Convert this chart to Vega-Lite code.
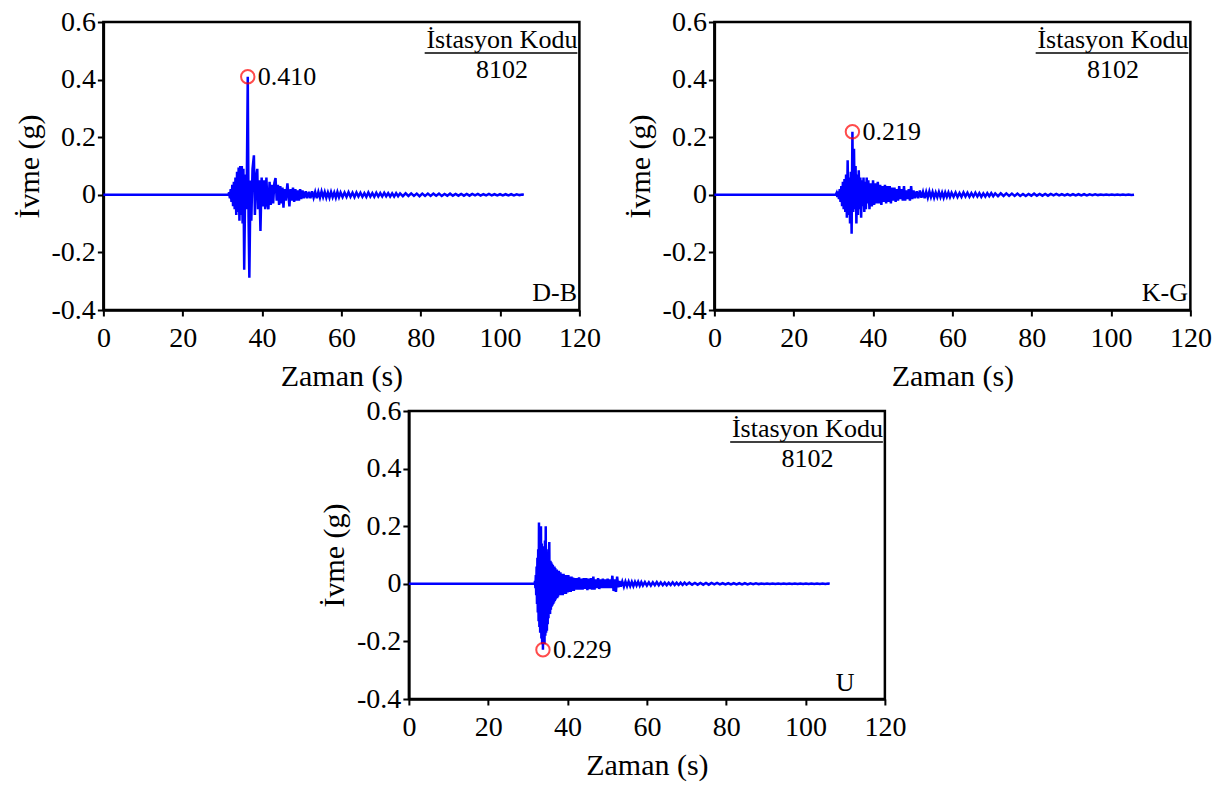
{
"$schema":"https://vega.github.io/schema/vega-lite/v6.json",
"padding":{"left":12,"top":6,"right":5,"bottom":2},
"config":{
 "font":"Liberation Serif",
 "view":{"stroke":"black","strokeWidth":2.5},
 "axis":{"grid":false,"domainColor":"black","domainWidth":2.5,"tickColor":"black","tickWidth":2,"tickSize":6,"labelFont":"Liberation Serif","labelFontSize":28,"labelColor":"black","labelFlush":false,"labelOverlap":false,"titleFont":"Liberation Serif","titleFontSize":30,"titleFontWeight":"normal","titleColor":"black"},
 "axisX":{"labelPadding":8,"titlePadding":9},
 "axisY":{"labelPadding":2,"titlePadding":7},
 "text":{"font":"Liberation Serif","fontSize":26,"color":"black"}
},
"datasets":{
 "db":[{"t":0,"a":0},{"t":31.5,"a":0},{"t":31.7,"a":0.008},{"t":31.9,"a":-0.012},{"t":32.1,"a":0.02},{"t":32.3,"a":-0.025},{"t":32.5,"a":0.035},{"t":32.7,"a":-0.04},{"t":32.9,"a":0.045},{"t":33.1,"a":-0.05},{"t":33.3,"a":0.06},{"t":33.5,"a":-0.07},{"t":33.7,"a":0.08},{"t":33.9,"a":-0.06},{"t":34.1,"a":0.095},{"t":34.3,"a":-0.09},{"t":34.5,"a":0.1},{"t":34.7,"a":-0.07},{"t":34.9,"a":0.1},{"t":35.1,"a":-0.1},{"t":35.3,"a":0.09},{"t":35.5,"a":-0.26},{"t":35.8,"a":0.07},{"t":36.1,"a":-0.05},{"t":36.4,"a":0.41},{"t":36.6,"a":-0.08},{"t":36.8,"a":-0.288},{"t":37.1,"a":0.05},{"t":37.3,"a":-0.09},{"t":37.6,"a":0.09},{"t":37.95,"a":0.137},{"t":38.2,"a":-0.07},{"t":38.5,"a":0.06},{"t":38.8,"a":0.09},{"t":39.0,"a":-0.05},{"t":39.3,"a":0.05},{"t":39.6,"a":-0.126},{"t":39.9,"a":0.06},{"t":40.2,"a":-0.04},{"t":40.5,"a":0.05},{"t":40.8,"a":-0.05},{"t":41.1,"a":0.06},{"t":41.35,"a":-0.03},{"t":41.6,"a":-0.05},{"t":41.9,"a":0.045},{"t":42.2,"a":-0.035},{"t":42.5,"a":0.035},{"t":42.8,"a":-0.03},{"t":43.1,"a":0.04},{"t":43.4,"a":0.058},{"t":43.7,"a":-0.02},{"t":44.0,"a":0.035},{"t":44.3,"a":-0.035},{"t":44.6,"a":0.03},{"t":44.9,"a":-0.03},{"t":45.15,"a":0.025},{"t":45.4,"a":-0.045},{"t":45.7,"a":0.02},{"t":46.0,"a":-0.02},{"t":46.4,"a":0.04},{"t":46.9,"a":-0.04},{"t":47.2,"a":0.02},{"t":47.5,"a":-0.02},{"t":47.8,"a":0.025},{"t":48.1,"a":-0.025},{"t":48.4,"a":0.02},{"t":48.7,"a":-0.02},{"t":49.0,"a":0.015},{"t":49.3,"a":-0.02},{"t":49.6,"a":0.02},{"t":49.9,"a":-0.015},{"t":50.2,"a":0.015},{"t":50.6,"a":-0.012},{"t":51.0,"a":0.012},{"t":51.4,"a":-0.012},{"t":51.8,"a":0.01},{"t":52.2,"a":-0.012},{"t":52.6,"a":0.012},{"t":53.0,"a":-0.01},{"t":53.4,"a":0.01},{"t":53.8,"a":-0.012},{"t":54.2,"a":0.01},{"t":54.6,"a":-0.01},{"t":55.0,"a":0.012},{"t":55.4,"a":-0.008},{"t":55.8,"a":0.01},{"t":56.2,"a":-0.01},{"t":56.6,"a":0.008},{"t":57.0,"a":-0.01},{"t":57.4,"a":0.01},{"t":57.8,"a":-0.008},{"t":58.2,"a":0.008},{"t":58.6,"a":-0.01},{"t":59.0,"a":0.01},{"t":59.4,"a":-0.008},{"t":59.8,"a":0.008},{"t":60.3,"a":-0.008},{"t":60.8,"a":0.008},{"t":61.3,"a":-0.007},{"t":61.8,"a":0.009},{"t":62.3,"a":-0.007},{"t":62.8,"a":0.007},{"t":63.3,"a":-0.008},{"t":63.8,"a":0.008},{"t":64.3,"a":-0.006},{"t":64.8,"a":0.007},{"t":65.3,"a":-0.007},{"t":65.8,"a":0.006},{"t":66.3,"a":-0.007},{"t":66.8,"a":0.008},{"t":67.3,"a":-0.006},{"t":67.8,"a":0.006},{"t":68.3,"a":-0.007},{"t":68.8,"a":0.007},{"t":69.3,"a":-0.006},{"t":69.8,"a":0.006},{"t":70.3,"a":-0.006},{"t":70.8,"a":0.007},{"t":71.3,"a":-0.005},{"t":71.8,"a":0.006},{"t":72.3,"a":-0.006},{"t":72.8,"a":0.005},{"t":73.3,"a":-0.006},{"t":73.8,"a":0.006},{"t":74.3,"a":-0.005},{"t":74.8,"a":0.005},{"t":75.5,"a":-0.005},{"t":76.2,"a":0.005},{"t":76.9,"a":-0.004},{"t":77.6,"a":0.005},{"t":78.3,"a":-0.004},{"t":79.0,"a":0.004},{"t":79.7,"a":-0.005},{"t":80.4,"a":0.004},{"t":81.1,"a":-0.004},{"t":81.8,"a":0.004},{"t":82.5,"a":-0.004},{"t":83.2,"a":0.004},{"t":83.9,"a":-0.003},{"t":84.6,"a":0.004},{"t":85.3,"a":-0.004},{"t":86.0,"a":0.003},{"t":86.7,"a":-0.003},{"t":87.4,"a":0.004},{"t":88.1,"a":-0.003},{"t":88.8,"a":0.003},{"t":89.5,"a":-0.003},{"t":90.2,"a":0.003},{"t":90.9,"a":-0.003},{"t":91.6,"a":0.003},{"t":92.3,"a":-0.003},{"t":93.0,"a":0.003},{"t":93.7,"a":-0.002},{"t":94.4,"a":0.003},{"t":95.1,"a":-0.003},{"t":95.8,"a":0.002},{"t":96.5,"a":-0.002},{"t":97.2,"a":0.003},{"t":97.9,"a":-0.002},{"t":98.6,"a":0.002},{"t":99.3,"a":-0.002},{"t":100.0,"a":0.002},{"t":100.7,"a":-0.002},{"t":101.4,"a":0.002},{"t":102.1,"a":-0.002},{"t":102.8,"a":0.002},{"t":103.5,"a":-0.002},{"t":104.2,"a":0.002},{"t":104.9,"a":-0.001},{"t":105.6,"a":0.001},{"t":106.0,"a":0}],
 "kg":[{"t":0,"a":0},{"t":30.6,"a":0},{"t":30.8,"a":0.006},{"t":31.0,"a":-0.008},{"t":31.2,"a":0.012},{"t":31.4,"a":-0.015},{"t":31.6,"a":0.02},{"t":31.8,"a":-0.025},{"t":32.0,"a":0.03},{"t":32.2,"a":-0.04},{"t":32.4,"a":0.045},{"t":32.6,"a":-0.05},{"t":32.8,"a":0.055},{"t":33.0,"a":-0.06},{"t":33.2,"a":0.07},{"t":33.4,"a":-0.08},{"t":33.6,"a":0.12},{"t":33.8,"a":-0.07},{"t":34.0,"a":0.06},{"t":34.2,"a":-0.1},{"t":34.4,"a":0.08},{"t":34.6,"a":-0.135},{"t":34.8,"a":0.219},{"t":35.0,"a":-0.06},{"t":35.2,"a":0.16},{"t":35.4,"a":-0.05},{"t":35.6,"a":0.1},{"t":35.8,"a":-0.1},{"t":36.0,"a":0.07},{"t":36.2,"a":-0.07},{"t":36.4,"a":0.085},{"t":36.6,"a":-0.05},{"t":36.8,"a":0.06},{"t":37.0,"a":-0.08},{"t":37.2,"a":0.05},{"t":37.4,"a":-0.04},{"t":37.6,"a":0.06},{"t":37.8,"a":-0.06},{"t":38.0,"a":0.045},{"t":38.2,"a":-0.05},{"t":38.4,"a":0.06},{"t":38.6,"a":-0.03},{"t":38.8,"a":0.05},{"t":39.1,"a":-0.05},{"t":39.4,"a":0.04},{"t":39.7,"a":-0.04},{"t":40.0,"a":0.05},{"t":40.3,"a":-0.035},{"t":40.6,"a":0.04},{"t":40.9,"a":-0.03},{"t":41.2,"a":0.045},{"t":41.5,"a":-0.03},{"t":41.8,"a":0.035},{"t":42.1,"a":-0.035},{"t":42.4,"a":0.03},{"t":42.7,"a":-0.025},{"t":43.0,"a":0.035},{"t":43.3,"a":-0.03},{"t":43.6,"a":0.03},{"t":43.9,"a":-0.025},{"t":44.2,"a":0.03},{"t":44.5,"a":-0.03},{"t":44.8,"a":0.025},{"t":45.1,"a":-0.02},{"t":45.4,"a":0.025},{"t":45.7,"a":-0.025},{"t":46.0,"a":0.02},{"t":46.3,"a":-0.02},{"t":46.6,"a":0.03},{"t":46.9,"a":-0.015},{"t":47.2,"a":0.02},{"t":47.5,"a":-0.02},{"t":47.8,"a":0.03},{"t":48.1,"a":-0.02},{"t":48.4,"a":0.015},{"t":48.7,"a":-0.015},{"t":49.0,"a":0.02},{"t":49.3,"a":-0.02},{"t":49.6,"a":0.03},{"t":49.9,"a":-0.015},{"t":50.2,"a":0.015},{"t":50.6,"a":-0.012},{"t":51.0,"a":0.012},{"t":51.4,"a":-0.012},{"t":51.8,"a":0.015},{"t":52.2,"a":-0.01},{"t":52.6,"a":0.01},{"t":53.0,"a":-0.012},{"t":53.4,"a":0.01},{"t":53.8,"a":-0.01},{"t":54.2,"a":0.012},{"t":54.6,"a":-0.008},{"t":55.0,"a":0.01},{"t":55.4,"a":-0.01},{"t":55.8,"a":0.008},{"t":56.2,"a":-0.008},{"t":56.6,"a":0.01},{"t":57.0,"a":-0.008},{"t":57.4,"a":0.008},{"t":57.8,"a":-0.01},{"t":58.2,"a":0.008},{"t":58.6,"a":-0.007},{"t":59.0,"a":0.008},{"t":59.4,"a":-0.008},{"t":59.8,"a":0.007},{"t":60.3,"a":-0.007},{"t":60.8,"a":0.008},{"t":61.3,"a":-0.008},{"t":61.8,"a":0.006},{"t":62.3,"a":-0.007},{"t":62.8,"a":0.008},{"t":63.3,"a":-0.006},{"t":63.8,"a":0.007},{"t":64.3,"a":-0.007},{"t":64.8,"a":0.006},{"t":65.3,"a":-0.006},{"t":65.8,"a":0.007},{"t":66.3,"a":-0.006},{"t":66.8,"a":0.006},{"t":67.3,"a":-0.007},{"t":67.8,"a":0.005},{"t":68.3,"a":-0.006},{"t":68.8,"a":0.006},{"t":69.3,"a":-0.005},{"t":69.8,"a":0.006},{"t":70.3,"a":-0.005},{"t":70.8,"a":0.005},{"t":71.5,"a":-0.005},{"t":72.2,"a":0.005},{"t":72.9,"a":-0.004},{"t":73.6,"a":0.005},{"t":74.3,"a":-0.004},{"t":75.0,"a":0.004},{"t":75.7,"a":-0.004},{"t":76.4,"a":0.004},{"t":77.1,"a":-0.004},{"t":77.8,"a":0.003},{"t":78.5,"a":-0.004},{"t":79.2,"a":0.003},{"t":79.9,"a":-0.003},{"t":80.6,"a":0.004},{"t":81.3,"a":-0.003},{"t":82.0,"a":0.003},{"t":82.7,"a":-0.003},{"t":83.4,"a":0.003},{"t":84.1,"a":-0.003},{"t":84.8,"a":0.003},{"t":85.5,"a":-0.002},{"t":86.2,"a":0.003},{"t":86.9,"a":-0.002},{"t":87.6,"a":0.002},{"t":88.3,"a":-0.002},{"t":89.0,"a":0.002},{"t":89.7,"a":-0.002},{"t":90.4,"a":0.002},{"t":91.1,"a":-0.002},{"t":91.8,"a":0.002},{"t":92.5,"a":-0.002},{"t":93.2,"a":0.002},{"t":93.9,"a":-0.002},{"t":94.6,"a":0.002},{"t":95.3,"a":-0.001},{"t":96.0,"a":0.002},{"t":96.7,"a":-0.001},{"t":97.4,"a":0.001},{"t":98.1,"a":-0.001},{"t":98.8,"a":0.001},{"t":99.5,"a":-0.001},{"t":100.2,"a":0.001},{"t":100.9,"a":-0.001},{"t":101.6,"a":0.001},{"t":102.3,"a":-0.001},{"t":103.0,"a":0.001},{"t":103.7,"a":-0.001},{"t":104.4,"a":0.001},{"t":105.1,"a":-0.001},{"t":105.8,"a":0}],
 "u":[{"t":0,"a":0},{"t":31.7,"a":0},{"t":31.8,"a":0.01},{"t":31.9,"a":-0.015},{"t":32.0,"a":0.03},{"t":32.1,"a":-0.04},{"t":32.2,"a":0.06},{"t":32.3,"a":-0.07},{"t":32.4,"a":0.09},{"t":32.5,"a":-0.1},{"t":32.6,"a":0.12},{"t":32.7,"a":-0.13},{"t":32.8,"a":0.213},{"t":32.9,"a":-0.15},{"t":33.0,"a":0.15},{"t":33.1,"a":-0.17},{"t":33.2,"a":0.18},{"t":33.3,"a":0.2},{"t":33.4,"a":-0.19},{"t":33.5,"a":0.14},{"t":33.6,"a":-0.21},{"t":33.7,"a":0.13},{"t":33.8,"a":-0.229},{"t":33.9,"a":0.12},{"t":34.0,"a":-0.2},{"t":34.1,"a":0.13},{"t":34.2,"a":-0.21},{"t":34.3,"a":0.15},{"t":34.4,"a":-0.18},{"t":34.5,"a":0.2},{"t":34.6,"a":-0.17},{"t":34.7,"a":0.12},{"t":34.8,"a":-0.163},{"t":34.9,"a":0.1},{"t":35.0,"a":-0.14},{"t":35.1,"a":0.11},{"t":35.2,"a":-0.12},{"t":35.3,"a":0.09},{"t":35.4,"a":0.145},{"t":35.5,"a":-0.1},{"t":35.6,"a":-0.105},{"t":35.7,"a":0.08},{"t":35.8,"a":-0.09},{"t":35.9,"a":0.075},{"t":36.0,"a":-0.08},{"t":36.1,"a":0.07},{"t":36.2,"a":-0.075},{"t":36.3,"a":0.065},{"t":36.4,"a":-0.07},{"t":36.5,"a":0.06},{"t":36.6,"a":-0.065},{"t":36.7,"a":0.06},{"t":36.8,"a":-0.06},{"t":36.9,"a":0.055},{"t":37.0,"a":-0.055},{"t":37.1,"a":0.05},{"t":37.2,"a":-0.05},{"t":37.3,"a":0.05},{"t":37.4,"a":-0.05},{"t":37.5,"a":0.045},{"t":37.6,"a":-0.045},{"t":37.8,"a":0.045},{"t":38.0,"a":-0.04},{"t":38.2,"a":0.04},{"t":38.4,"a":-0.04},{"t":38.6,"a":0.035},{"t":38.8,"a":-0.04},{"t":39.0,"a":0.035},{"t":39.2,"a":-0.035},{"t":39.4,"a":0.03},{"t":39.6,"a":-0.035},{"t":39.8,"a":0.03},{"t":40.0,"a":-0.03},{"t":40.2,"a":0.03},{"t":40.4,"a":-0.028},{"t":40.6,"a":0.025},{"t":40.8,"a":-0.028},{"t":41.0,"a":0.025},{"t":41.2,"a":-0.025},{"t":41.4,"a":0.022},{"t":41.6,"a":-0.025},{"t":41.8,"a":0.02},{"t":42.0,"a":-0.02},{"t":42.3,"a":0.02},{"t":42.6,"a":-0.02},{"t":42.9,"a":0.022},{"t":43.2,"a":-0.02},{"t":43.5,"a":0.018},{"t":43.8,"a":-0.02},{"t":44.1,"a":0.02},{"t":44.4,"a":-0.018},{"t":44.7,"a":0.02},{"t":45.0,"a":-0.022},{"t":45.3,"a":0.018},{"t":45.6,"a":-0.018},{"t":45.9,"a":0.02},{"t":46.2,"a":-0.02},{"t":46.5,"a":0.025},{"t":46.8,"a":-0.02},{"t":47.1,"a":0.015},{"t":47.4,"a":-0.015},{"t":47.7,"a":0.02},{"t":48.0,"a":-0.018},{"t":48.3,"a":0.015},{"t":48.6,"a":-0.015},{"t":48.9,"a":0.018},{"t":49.2,"a":-0.015},{"t":49.5,"a":0.015},{"t":49.8,"a":-0.015},{"t":50.1,"a":0.018},{"t":50.4,"a":-0.015},{"t":50.7,"a":0.015},{"t":51.0,"a":-0.015},{"t":51.3,"a":0.028},{"t":51.6,"a":-0.025},{"t":51.9,"a":0.015},{"t":52.2,"a":-0.028},{"t":52.5,"a":0.025},{"t":52.8,"a":-0.012},{"t":53.1,"a":0.01},{"t":53.4,"a":-0.01},{"t":53.8,"a":0.008},{"t":54.2,"a":-0.01},{"t":54.6,"a":0.008},{"t":55.0,"a":-0.008},{"t":55.4,"a":0.008},{"t":55.8,"a":-0.008},{"t":56.2,"a":0.007},{"t":56.6,"a":-0.008},{"t":57.0,"a":0.007},{"t":57.4,"a":-0.006},{"t":57.8,"a":0.007},{"t":58.2,"a":-0.007},{"t":58.6,"a":0.006},{"t":59.0,"a":-0.006},{"t":59.5,"a":0.006},{"t":60.0,"a":-0.006},{"t":60.5,"a":0.005},{"t":61.0,"a":-0.006},{"t":61.5,"a":0.005},{"t":62.0,"a":-0.005},{"t":62.5,"a":0.006},{"t":63.0,"a":-0.005},{"t":63.5,"a":0.005},{"t":64.0,"a":-0.005},{"t":64.5,"a":0.004},{"t":65.0,"a":-0.005},{"t":65.5,"a":0.004},{"t":66.0,"a":-0.004},{"t":66.5,"a":0.005},{"t":67.0,"a":-0.004},{"t":67.5,"a":0.004},{"t":68.0,"a":-0.004},{"t":68.5,"a":0.004},{"t":69.0,"a":-0.004},{"t":69.5,"a":0.004},{"t":70.0,"a":-0.003},{"t":70.7,"a":0.004},{"t":71.4,"a":-0.003},{"t":72.1,"a":0.003},{"t":72.8,"a":-0.003},{"t":73.5,"a":0.003},{"t":74.2,"a":-0.003},{"t":74.9,"a":0.003},{"t":75.6,"a":-0.003},{"t":76.3,"a":0.003},{"t":77.0,"a":-0.002},{"t":77.7,"a":0.003},{"t":78.4,"a":-0.002},{"t":79.1,"a":0.002},{"t":79.8,"a":-0.002},{"t":80.5,"a":0.002},{"t":81.2,"a":-0.002},{"t":81.9,"a":0.002},{"t":82.6,"a":-0.002},{"t":83.3,"a":0.002},{"t":84.0,"a":-0.002},{"t":84.7,"a":0.002},{"t":85.4,"a":-0.002},{"t":86.1,"a":0.002},{"t":86.8,"a":-0.001},{"t":87.5,"a":0.002},{"t":88.2,"a":-0.001},{"t":88.9,"a":0.001},{"t":89.6,"a":-0.001},{"t":90.3,"a":0.001},{"t":91.0,"a":-0.001},{"t":91.7,"a":0.001},{"t":92.4,"a":-0.001},{"t":93.1,"a":0.001},{"t":93.8,"a":-0.001},{"t":94.5,"a":0.001},{"t":95.2,"a":-0.001},{"t":95.9,"a":0.001},{"t":96.6,"a":-0.001},{"t":97.3,"a":0.001},{"t":98.0,"a":-0.001},{"t":98.7,"a":0.001},{"t":99.4,"a":-0.001},{"t":100.1,"a":0.001},{"t":100.8,"a":-0.001},{"t":101.5,"a":0.001},{"t":102.2,"a":-0.001},{"t":102.9,"a":0.001},{"t":103.6,"a":-0.001},{"t":104.3,"a":0.001},{"t":105.0,"a":-0.001},{"t":105.7,"a":0.001},{"t":106.1,"a":0}]
},
"vconcat":[
 {"hconcat":[
  {"width":476,"height":288,"layer":[
   {"data":{"name":"db"},"mark":{"type":"line","color":"#0000FF","strokeWidth":2.5},
    "encoding":{"x":{"field":"t","type":"quantitative","scale":{"domain":[0,120]},"axis":{"values":[0,20,40,60,80,100,120],"title":"Zaman (s)"}},
     "y":{"field":"a","type":"quantitative","scale":{"domain":[-0.4,0.6]},"axis":{"values":[-0.4,-0.2,0,0.2,0.4,0.6],"title":"İvme (g)","labelExpr":"datum.value == 0 ? '0' : (datum.value < 0 ? '-' : '') + format(abs(datum.value), '.1f')"}}}},
   {"data":{"values":[{"t":36.4,"a":0.41,"lbl":"0.410"}]},"mark":{"type":"point","shape":"circle","filled":false,"color":"#FF0000","size":180,"strokeWidth":2},"encoding":{"x":{"field":"t","type":"quantitative"},"y":{"field":"a","type":"quantitative"}}},
   {"data":{"values":[{"t":36.4,"a":0.41,"lbl":"0.410"}]},"mark":{"type":"text","align":"left","baseline":"middle","dx":10},"encoding":{"x":{"field":"t","type":"quantitative"},"y":{"field":"a","type":"quantitative"},"text":{"field":"lbl"}}},
   {"data":{"values":[{}]},"mark":{"type":"text","align":"right","baseline":"alphabetic"},"encoding":{"x":{"datum":119.5,"type":"quantitative"},"y":{"datum":0.511,"type":"quantitative"},"text":{"value":"İstasyon Kodu"}}},
   {"data":{"values":[{}]},"mark":{"type":"rule","color":"black","strokeWidth":1.5},"encoding":{"x":{"datum":81,"type":"quantitative"},"x2":{"datum":119.5},"y":{"datum":0.492,"type":"quantitative"}}},
   {"data":{"values":[{}]},"mark":{"type":"text","align":"center","baseline":"alphabetic"},"encoding":{"x":{"datum":100.5,"type":"quantitative"},"y":{"datum":0.406,"type":"quantitative"},"text":{"value":"8102"}}},
   {"data":{"values":[{}]},"mark":{"type":"text","align":"right","baseline":"alphabetic"},"encoding":{"x":{"datum":119.4,"type":"quantitative"},"y":{"datum":-0.369,"type":"quantitative"},"text":{"value":"D-B"}}}
  ]},
  {"width":476,"height":288,"layer":[
   {"data":{"name":"kg"},"mark":{"type":"line","color":"#0000FF","strokeWidth":2.5},
    "encoding":{"x":{"field":"t","type":"quantitative","scale":{"domain":[0,120]},"axis":{"values":[0,20,40,60,80,100,120],"title":"Zaman (s)"}},
     "y":{"field":"a","type":"quantitative","scale":{"domain":[-0.4,0.6]},"axis":{"values":[-0.4,-0.2,0,0.2,0.4,0.6],"title":"İvme (g)","labelExpr":"datum.value == 0 ? '0' : (datum.value < 0 ? '-' : '') + format(abs(datum.value), '.1f')"}}}},
   {"data":{"values":[{"t":34.8,"a":0.219,"lbl":"0.219"}]},"mark":{"type":"point","shape":"circle","filled":false,"color":"#FF0000","size":180,"strokeWidth":2},"encoding":{"x":{"field":"t","type":"quantitative"},"y":{"field":"a","type":"quantitative"}}},
   {"data":{"values":[{"t":34.8,"a":0.219,"lbl":"0.219"}]},"mark":{"type":"text","align":"left","baseline":"middle","dx":10},"encoding":{"x":{"field":"t","type":"quantitative"},"y":{"field":"a","type":"quantitative"},"text":{"field":"lbl"}}},
   {"data":{"values":[{}]},"mark":{"type":"text","align":"right","baseline":"alphabetic"},"encoding":{"x":{"datum":119.5,"type":"quantitative"},"y":{"datum":0.511,"type":"quantitative"},"text":{"value":"İstasyon Kodu"}}},
   {"data":{"values":[{}]},"mark":{"type":"rule","color":"black","strokeWidth":1.5},"encoding":{"x":{"datum":81,"type":"quantitative"},"x2":{"datum":119.5},"y":{"datum":0.492,"type":"quantitative"}}},
   {"data":{"values":[{}]},"mark":{"type":"text","align":"center","baseline":"alphabetic"},"encoding":{"x":{"datum":100.5,"type":"quantitative"},"y":{"datum":0.406,"type":"quantitative"},"text":{"value":"8102"}}},
   {"data":{"values":[{}]},"mark":{"type":"text","align":"right","baseline":"alphabetic"},"encoding":{"x":{"datum":119.4,"type":"quantitative"},"y":{"datum":-0.369,"type":"quantitative"},"text":{"value":"K-G"}}}
  ]}
 ],"spacing":21},
 {"width":476,"height":288,"layer":[
   {"data":{"name":"u"},"mark":{"type":"line","color":"#0000FF","strokeWidth":2.5},
    "encoding":{"x":{"field":"t","type":"quantitative","scale":{"domain":[0,120]},"axis":{"values":[0,20,40,60,80,100,120],"title":"Zaman (s)"}},
     "y":{"field":"a","type":"quantitative","scale":{"domain":[-0.4,0.6]},"axis":{"values":[-0.4,-0.2,0,0.2,0.4,0.6],"title":"İvme (g)","labelExpr":"datum.value == 0 ? '0' : (datum.value < 0 ? '-' : '') + format(abs(datum.value), '.1f')"}}}},
   {"data":{"values":[{"t":33.8,"a":-0.229,"lbl":"0.229"}]},"mark":{"type":"point","shape":"circle","filled":false,"color":"#FF0000","size":180,"strokeWidth":2},"encoding":{"x":{"field":"t","type":"quantitative"},"y":{"field":"a","type":"quantitative"}}},
   {"data":{"values":[{"t":33.8,"a":-0.229,"lbl":"0.229"}]},"mark":{"type":"text","align":"left","baseline":"middle","dx":10},"encoding":{"x":{"field":"t","type":"quantitative"},"y":{"field":"a","type":"quantitative"},"text":{"field":"lbl"}}},
   {"data":{"values":[{}]},"mark":{"type":"text","align":"right","baseline":"alphabetic"},"encoding":{"x":{"datum":119.5,"type":"quantitative"},"y":{"datum":0.511,"type":"quantitative"},"text":{"value":"İstasyon Kodu"}}},
   {"data":{"values":[{}]},"mark":{"type":"rule","color":"black","strokeWidth":1.5},"encoding":{"x":{"datum":81,"type":"quantitative"},"x2":{"datum":119.5},"y":{"datum":0.492,"type":"quantitative"}}},
   {"data":{"values":[{}]},"mark":{"type":"text","align":"center","baseline":"alphabetic"},"encoding":{"x":{"datum":100.5,"type":"quantitative"},"y":{"datum":0.406,"type":"quantitative"},"text":{"value":"8102"}}},
   {"data":{"values":[{}]},"mark":{"type":"text","align":"center","baseline":"alphabetic"},"encoding":{"x":{"datum":110,"type":"quantitative"},"y":{"datum":-0.372,"type":"quantitative"},"text":{"value":"U"}}}
 ]}
],
"spacing":2,
"center":true
}
